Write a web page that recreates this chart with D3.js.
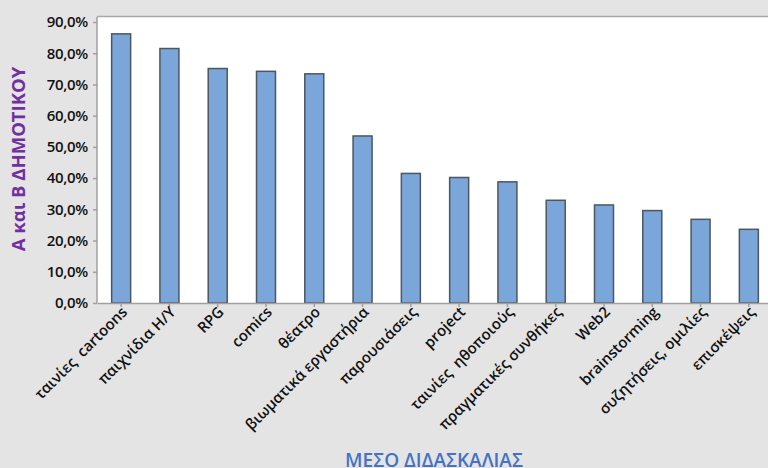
<!DOCTYPE html>
<html>
<head>
<meta charset="utf-8">
<script src="https://cdn.jsdelivr.net/npm/d3@7"></script>
<style>
  body { margin: 0; background: #e4e4e4; }
  svg { display: block; font-family: "Open Sans", sans-serif; }
</style>
</head>
<body>
<svg id="chart" width="768" height="468"></svg>
<script>
// categories and values (% of pupils)
const categories = [
    'ταινίες  cartoons', 'παιχνίδια Η/Υ', 'RPG', 'comics', 'θέατρο',
    'βιωματικά εργαστήρια', 'παρουσιάσεις', 'project', 'ταινίες  ηθοποιούς',
    'πραγματικές συνθήκες', 'Web2', 'brainstorming', 'συζητήσεις, ομιλίες', 'επισκέψεις'
];
const values = [86.2, 81.5, 75.1, 74.2, 73.4, 53.5, 41.5, 40.2, 38.8, 32.9, 31.4, 29.6, 26.8, 23.6];
const yTicks = [0, 10, 20, 30, 40, 50, 60, 70, 80, 90];

const yTitle = 'Α και Β ΔΗΜΟΤΙΚΟΥ';
const xTitle = 'ΜΕΣΟ ΔΙΔΑΣΚΑΛΙΑΣ';

const svg = d3.select('#chart');

// plot area (runs past the right edge, as in the cropped original)
const plotLeft = 97, plotRight = 773, plotTop = 17, plotBottom = 303;

const x = d3.scaleBand()
    .domain(categories)
    .range([plotLeft, plotRight])
    .paddingInner(0)
    .paddingOuter(0);

const y = d3.scaleLinear()
    .domain([0, 90])
    .range([plotBottom, 22]);

const barWidth = 19;

// plot background
svg.append('rect')
    .attr('x', plotLeft)
    .attr('y', plotTop)
    .attr('width', plotRight - plotLeft)
    .attr('height', plotBottom - plotTop)
    .attr('fill', '#fff');

svg.append('line')
    .attr('x1', plotLeft).attr('x2', plotRight)
    .attr('y1', plotTop - 0.5).attr('y2', plotTop - 0.5)
    .attr('stroke', '#a8a8a8')
    .attr('stroke-width', 1.5);

// bars
svg.append('g')
    .selectAll('rect')
    .data(values)
    .join('rect')
    .attr('x', (d, i) => x(categories[i]) + x.bandwidth() / 2 - barWidth / 2)
    .attr('y', d => y(d))
    .attr('width', barWidth)
    .attr('height', d => plotBottom - y(d))
    .attr('fill', '#7ba6d9')
    .attr('stroke', '#4e5660')
    .attr('stroke-width', 1.5);

// y axis
const yAxis = svg.append('g')
    .attr('transform', `translate(${plotLeft},0)`)
    .call(d3.axisLeft(y)
        .tickValues(yTicks)
        .tickSize(4)
        .tickPadding(5)
        .tickFormat(d => d.toFixed(1).replace('.', ',') + '%'));
yAxis.select('.domain').remove();
yAxis.append('line')
    .attr('x1', 0).attr('x2', 0)
    .attr('y1', plotTop).attr('y2', plotBottom)
    .attr('stroke', '#a0a0a0')
    .attr('stroke-width', 1.5);
yAxis.selectAll('.tick line').attr('stroke', '#a0a0a0').attr('stroke-width', 1.5);
yAxis.selectAll('.tick text')
    .attr('fill', '#111')
    .attr('font-size', 15)
    .attr('font-weight', 600)
    .attr('letter-spacing', -0.3)
    .attr('font-family', '"Open Sans", sans-serif');

// x axis
const xAxis = svg.append('g')
    .attr('transform', `translate(0,${plotBottom})`)
    .call(d3.axisBottom(x).tickSize(4).tickSizeOuter(0));
xAxis.select('.domain')
    .attr('stroke', '#a0a0a0')
    .attr('stroke-width', 1.5);
xAxis.selectAll('.tick line').attr('stroke', '#a0a0a0').attr('stroke-width', 1.5);
xAxis.selectAll('.tick text')
    .attr('fill', '#111')
    .attr('font-size', 15)
    .attr('font-weight', 600)
    .attr('font-family', '"Open Sans", sans-serif')
    .attr('text-anchor', 'end')
    .attr('dy', 0)
    .attr('x', 0)
    .attr('y', 0)
    .attr('transform', 'translate(7,10) rotate(-45)')
    .style('white-space', 'pre');

// axis titles
svg.append('text')
    .text(yTitle)
    .attr('transform', 'translate(25,159) rotate(-90)')
    .attr('text-anchor', 'middle')
    .attr('fill', '#7030a0')
    .attr('font-size', 18.5)
    .attr('font-weight', 700);

svg.append('text')
    .text(xTitle)
    .attr('x', 434)
    .attr('y', 467)
    .attr('text-anchor', 'middle')
    .attr('fill', '#4472c4')
    .attr('font-size', 19)
    .attr('font-weight', 600);
</script>
</body>
</html>
